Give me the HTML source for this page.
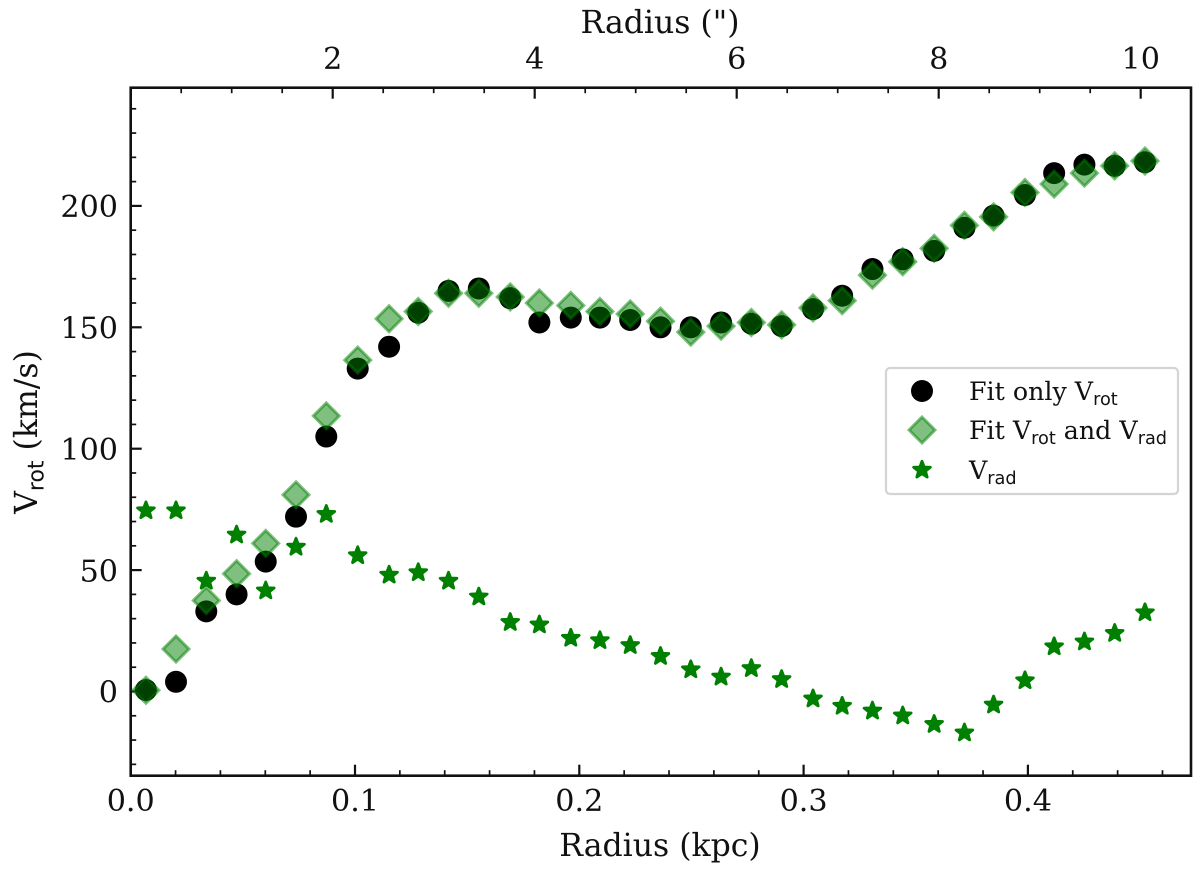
<!DOCTYPE html>
<html>
<head>
<meta charset="utf-8">
<title>Rotation curve</title>
<style>
html,body{margin:0;padding:0;background:#fff;}
svg{display:block;}
text{font-family:"DejaVu Serif","Liberation Serif",serif;fill:#111;}
.sub{font-family:"DejaVu Sans","Liberation Sans",sans-serif;}
</style>
</head>
<body>
<svg id="chart" width="1200" height="870" viewBox="0 0 1200 870" xmlns="http://www.w3.org/2000/svg">
  <rect x="0" y="0" width="1200" height="870" fill="#fff"/>
  <g id="ticks"></g>
  <g id="tick-labels"></g>
  <g id="series-rot"></g>
  <g id="series-both"></g>
  <g id="series-rad"></g>
  <rect x="130.7" y="87.7" width="1060.3" height="688" fill="none" stroke="#111" stroke-width="2.6"/>
  <text x="660" y="33" font-size="31.5" text-anchor="middle">Radius (")</text>
  <text x="660" y="856" font-size="31.5" text-anchor="middle">Radius (kpc)</text>
  <text transform="translate(37,432) rotate(-90)" font-size="31.5" text-anchor="middle">V<tspan class="sub" font-size="22" dy="6.5">rot</tspan><tspan dy="-6.5"> (km/s)</tspan></text>
  <g>
    <rect x="886" y="368" width="292" height="126" rx="4" ry="4" fill="#fff" fill-opacity="0.85" stroke="#d4d4d4" stroke-width="2.2"/>
    <g id="legend-markers"></g>
    <text x="969" y="400" font-size="25.3">Fit only V<tspan class="sub" font-size="17.7" dy="5">rot</tspan></text>
    <text x="969" y="439" font-size="25.3">Fit V<tspan class="sub" font-size="17.7" dy="5">rot</tspan><tspan dy="-5"> and V</tspan><tspan class="sub" font-size="17.7" dy="5">rad</tspan></text>
    <text x="969" y="479" font-size="25.3">V<tspan class="sub" font-size="17.7" dy="5">rad</tspan></text>
  </g>
</svg>
<script>
var radiusKpc = [0.0068,0.0202,0.0337,0.0472,0.0602,0.0737,0.0872,0.1012,0.1152,0.1282,0.1417,0.1552,0.1692,0.1822,0.1962,0.2092,0.2227,0.2362,0.2497,0.2632,0.2767,0.2902,0.3042,0.3172,0.3307,0.3442,0.3582,0.3717,0.3847,0.3987,0.4117,0.4252,0.4387,0.4522];
var vrotOnly = [0.6,4,33,40,53.5,72,105,133,142,156,165,166,162,152,154,154,153,150,150,152,151.5,150.5,157.5,163,174,178,181.5,191,196,204.5,213.5,217,216.5,218];
var vrotBoth = [0.5,17.5,37.5,48.5,61,81,113.5,136.5,153.5,156.5,164,164,162.5,160,159,156.5,155.5,152.5,148,150.5,152,151,158,161,171.5,177,182.5,192,195.5,205.5,209,213.5,216.5,218.5];
var vrad = [74.5,74.5,45.5,64.5,41.5,59.5,73,56,48,49,45.5,39,28.5,27.5,22,21,19,14.5,9,6,9.5,5,-3,-6,-8,-10,-13.5,-17,-5.5,4.5,18.5,20.5,24,32.5];
var xTickLabels = ["0.0","0.1","0.2","0.3","0.4"];
var topTickLabels = ["2","4","6","8","10"];
var yTickLabels = ["0","50","100","150","200"];

var NS = 'http://www.w3.org/2000/svg';
function sx(v){ return 130.7 + v * 2243; }
function sy(v){ return 691.5 - v * 2.428; }
function sTop(v){ return 130.7 + v * 101; }

function make(tag, parent, attrs){
  var el = document.createElementNS(NS, tag);
  for (var k in attrs) el.setAttribute(k, attrs[k]);
  document.getElementById(parent).appendChild(el);
  return el;
}
function tickLine(x1, y1, x2, y2, major){
  var el = make('line', 'ticks', {x1:x1, y1:y1, x2:x2, y2:y2, stroke:'#111', 'stroke-width': major ? 2.2 : 1.7});
  
  
}
function tickText(x, y, anchor, str){
  var el = make('text', 'tick-labels', {x:x, y:y, 'text-anchor':anchor, 'font-size':30.2});
  el.textContent = str;
  
  
}
var BOTTOM = 775.7, TOP = 87.7, LEFT = 130.7, RIGHT = 1191;
var MAJOR = 11, MINOR = 5.5;

// bottom axis
for (var i = 1; i < 24; i++) {
  var bv = i * 0.02, bx = sx(bv), bMajor = i % 5 === 0;
  tickLine(bx, BOTTOM, bx, BOTTOM - (bMajor ? MAJOR : MINOR), bMajor);
}
xTickLabels.forEach(function(l){ tickText(sx(parseFloat(l)), 811, 'middle', l); });

// top axis
for (var j = 1; j <= 20; j++) {
  var tv = j * 0.5, tx = sTop(tv), tMajor = j % 4 === 0;
  tickLine(tx, TOP, tx, TOP + (tMajor ? MAJOR : MINOR), tMajor);
}
topTickLabels.forEach(function(l){ tickText(sTop(parseFloat(l)), 69, 'middle', l); });

// left axis
for (var m = -3; m <= 24; m++) {
  var yv = m * 10, yy = sy(yv), yMajor = m % 5 === 0;
  tickLine(LEFT, yy, LEFT + (yMajor ? MAJOR : MINOR), yy, yMajor);
}
yTickLabels.forEach(function(l){ tickText(118, sy(parseFloat(l)) + 11.2, 'end', l); });

function circle(parent, cx, cy){
  return make('circle', parent, {cx:cx, cy:cy, r:11, fill:'#000'});
}
function diamond(parent, cx, cy){
  var r = 13;
  var pts = [[cx,cy-r],[cx+r,cy],[cx,cy+r],[cx-r,cy]].map(function(p){return p.join(',');}).join(' ');
  return make('polygon', parent, {points:pts, fill:'#008000', 'fill-opacity':0.5, stroke:'#008000', 'stroke-opacity':0.5, 'stroke-width':3});
}
function star(parent, cx, cy){
  var R = 8.8, r = R * 0.42, pts = [];
  for (var k = 0; k < 10; k++) {
    var a = -Math.PI / 2 + k * Math.PI / 5, q = k % 2 ? r : R;
    pts.push((cx + q * Math.cos(a)).toFixed(2) + ',' + (cy + q * Math.sin(a)).toFixed(2));
  }
  return make('polygon', parent, {points:pts.join(' '), fill:'#008000', stroke:'#008000', 'stroke-width':2.8, 'stroke-linejoin':'round'});
}

radiusKpc.forEach(function(r, i){
  var c = circle('series-rot', sx(r), sy(vrotOnly[i]));
  
  
});
radiusKpc.forEach(function(r, i){
  var d = diamond('series-both', sx(r), sy(vrotBoth[i]));
  
  
});
radiusKpc.forEach(function(r, i){
  var s = star('series-rad', sx(r), sy(vrad[i]));
  
  
});

var lc = circle('legend-markers', 922, 391);


var ld = diamond('legend-markers', 922, 430);


var ls = star('legend-markers', 922, 470);


</script>
</body>
</html>
